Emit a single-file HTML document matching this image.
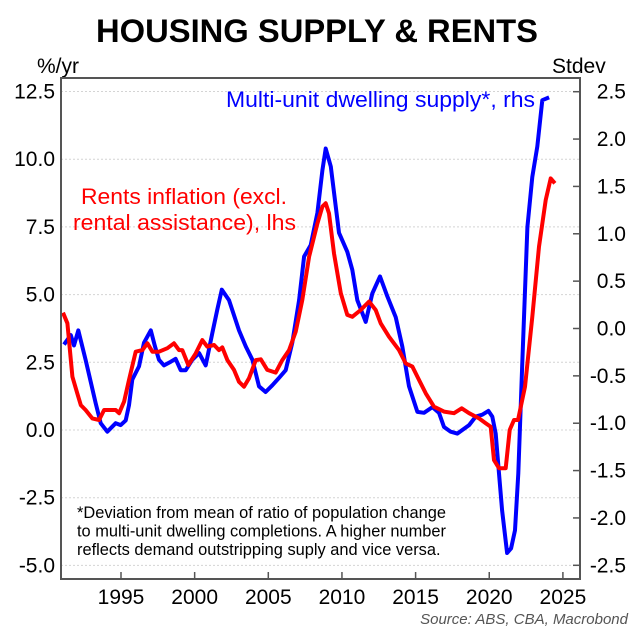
<!DOCTYPE html>
<html><head><meta charset="utf-8"><style>
body{margin:0;background:#fff;}
svg{display:block;font-family:"Liberation Sans",Arial,sans-serif;}
</style></head><body>
<svg id="chart" width="639" height="634" viewBox="0 0 639 634">
<text x="96" y="42" font-size="32" font-weight="bold" textLength="442" lengthAdjust="spacingAndGlyphs">HOUSING SUPPLY &amp; RENTS</text>
<text x="37" y="73" font-size="21">%/yr</text>
<text x="552" y="73" font-size="21">Stdev</text>
<g id="grid"></g>
<g id="lines"></g>
<rect x="61" y="78" width="519" height="501" fill="none" stroke="#555" stroke-width="2"/>
<g id="axes"></g>
<text x="226" y="107" font-size="22" fill="#0000ff" textLength="309" lengthAdjust="spacingAndGlyphs">Multi-unit dwelling supply*, rhs</text>
<text font-size="22" fill="#ff0000"><tspan x="81" y="204" textLength="206" lengthAdjust="spacingAndGlyphs">Rents inflation (excl.</tspan><tspan x="73" y="230" textLength="223" lengthAdjust="spacingAndGlyphs">rental assistance), lhs</tspan></text>
<text font-size="16.4"><tspan x="77" y="518">*Deviation from mean of ratio of population change</tspan><tspan x="77" y="536.5">to multi-unit dwelling completions. A higher number</tspan><tspan x="77" y="555">reflects demand outstripping suply and vice versa.</tspan></text>
<text x="628" y="624" font-size="15" font-style="italic" fill="#555" text-anchor="end">Source: ABS, CBA, Macrobond</text>
</svg>
<script>
const leftTicks=[12.5,10.0,7.5,5.0,2.5,0.0,-2.5,-5.0];
const rightTicks=[2.5,2.0,1.5,1.0,0.5,0.0,-0.5,-1.0,-1.5,-2.0,-2.5];
const yearTicks=[1995,2000,2005,2010,2015,2020,2025];
const blueYears=[1991.13,1991.59,1991.81,1992.10,1992.60,1993.28,1993.62,1994.07,1994.64,1994.98,1995.32,1995.54,1995.77,1996.22,1996.56,1997.02,1997.31,1997.58,1997.92,1998.38,1998.71,1999.05,1999.39,1999.84,2000.30,2000.75,2001.20,2001.54,2001.84,2002.33,2003.01,2003.47,2003.92,2004.37,2004.82,2005.27,2005.73,2006.18,2006.63,2007.09,2007.43,2007.88,2008.33,2008.67,2008.90,2009.24,2009.80,2010.36,2010.70,2011.04,2011.61,2012.06,2012.58,2013.08,2013.65,2014.10,2014.55,2015.12,2015.57,2016.14,2016.59,2016.93,2017.38,2017.83,2018.63,2019.08,2019.53,2019.94,2020.21,2020.44,2020.66,2020.87,2021.21,2021.48,2021.75,2021.97,2022.25,2022.59,2022.92,2023.26,2023.60,2024.06];
const blueValues=[-0.17,-0.07,-0.18,-0.02,-0.33,-0.79,-1.0,-1.09,-1.0,-1.02,-0.97,-0.81,-0.54,-0.40,-0.15,-0.02,-0.19,-0.33,-0.39,-0.35,-0.32,-0.44,-0.44,-0.33,-0.26,-0.39,-0.05,0.2,0.41,0.30,-0.02,-0.19,-0.33,-0.61,-0.67,-0.60,-0.52,-0.44,-0.15,0.30,0.76,0.88,1.22,1.67,1.90,1.71,1.01,0.81,0.62,0.30,0.07,0.37,0.55,0.34,0.12,-0.19,-0.61,-0.88,-0.89,-0.83,-0.89,-1.04,-1.09,-1.11,-1.02,-0.93,-0.91,-0.87,-0.93,-1.11,-1.53,-1.92,-2.37,-2.32,-2.13,-1.53,-0.33,1.07,1.60,1.92,2.41,2.44];
const redYears=[1991.06,1991.36,1991.70,1992.03,1992.27,1992.60,1993.05,1993.51,1993.85,1994.64,1994.87,1995.21,1995.54,1996.00,1996.45,1996.79,1997.13,1997.58,1998.15,1998.60,1998.94,1999.16,1999.57,2000.07,2000.52,2000.86,2001.32,2001.65,2001.88,2002.22,2002.67,2003.01,2003.35,2003.69,2004.15,2004.49,2004.93,2005.50,2005.95,2006.41,2006.86,2007.31,2007.77,2008.33,2008.67,2008.90,2009.12,2009.46,2009.92,2010.36,2010.70,2011.27,2011.84,2012.29,2012.63,2013.19,2013.87,2014.33,2014.78,2015.23,2015.69,2016.25,2016.93,2017.61,2018.13,2018.63,2019.31,2019.76,2020.10,2020.32,2020.66,2021.12,2021.39,2021.68,2021.95,2022.43,2022.92,2023.38,2023.83,2024.17,2024.46];
const redValues=[4.33,3.94,1.97,1.35,0.92,0.74,0.43,0.37,0.74,0.74,0.62,1.05,1.85,2.89,2.95,3.20,2.89,2.89,3.02,3.20,2.95,2.95,2.40,2.83,3.32,3.08,3.14,2.95,3.05,2.58,2.22,1.78,1.60,1.91,2.58,2.61,2.22,2.12,2.58,2.95,3.63,4.80,6.40,7.63,8.25,8.37,8.00,6.52,5.05,4.25,4.18,4.43,4.74,4.43,3.94,3.45,2.95,2.46,2.34,1.85,1.35,0.86,0.68,0.62,0.80,0.62,0.43,0.25,0.12,-1.11,-1.41,-1.41,0.0,0.37,0.37,1.60,4.18,6.77,8.49,9.29,9.11];

const NS="http://www.w3.org/2000/svg";
const X0=61,X1=580,Y0=78,Y1=579;
function xs(yr){return 121+(yr-1995)*14.73;}
function yl(v){return 430-v*27.08;}
function yr(v){return 328.5-v*94.72;}
function mk(tag,attrs,parent){const e=document.createElementNS(NS,tag);for(const k in attrs)e.setAttribute(k,attrs[k]);parent.appendChild(e);return e;}
const grid=document.getElementById('grid'),axes=document.getElementById('axes'),lines=document.getElementById('lines');
leftTicks.forEach(v=>{
  const g=mk('line',{x1:X0,x2:X1,y1:yl(v),y2:yl(v),stroke:'#d4d4d4','stroke-dasharray':'2,2','stroke-width':1},grid);
  
  
  const t=mk('text',{x:55,y:yl(v)+7,'font-size':21,'text-anchor':'end'},axes);
  t.textContent=v.toFixed(1);
  
  
});
rightTicks.forEach(v=>{
  const tk=mk('line',{x1:X1-7,x2:X1,y1:yr(v),y2:yr(v),stroke:'#555','stroke-width':1.5},axes);
  
  
  const t=mk('text',{x:626,y:yr(v)+7,'font-size':21,'text-anchor':'end'},axes);
  t.textContent=v.toFixed(1);
  
  
});
yearTicks.forEach(y=>{
  const tk=mk('line',{x1:xs(y),x2:xs(y),y1:Y1-7,y2:Y1,stroke:'#555','stroke-width':1.5},axes);
  
  
  const t=mk('text',{x:xs(y),y:604,'font-size':21,'text-anchor':'middle'},axes);
  t.textContent=y;
  
  
});
const bp=mk('polyline',{points:blueYears.map((y,i)=>xs(y).toFixed(1)+','+yr(blueValues[i]).toFixed(1)).join(' '),fill:'none',stroke:'#0000ff','stroke-width':4,'stroke-linejoin':'round'},lines);


const rp=mk('polyline',{points:redYears.map((y,i)=>xs(y).toFixed(1)+','+yl(redValues[i]).toFixed(1)).join(' '),fill:'none',stroke:'#ff0000','stroke-width':4,'stroke-linejoin':'round'},lines);


</script>
</body></html>
